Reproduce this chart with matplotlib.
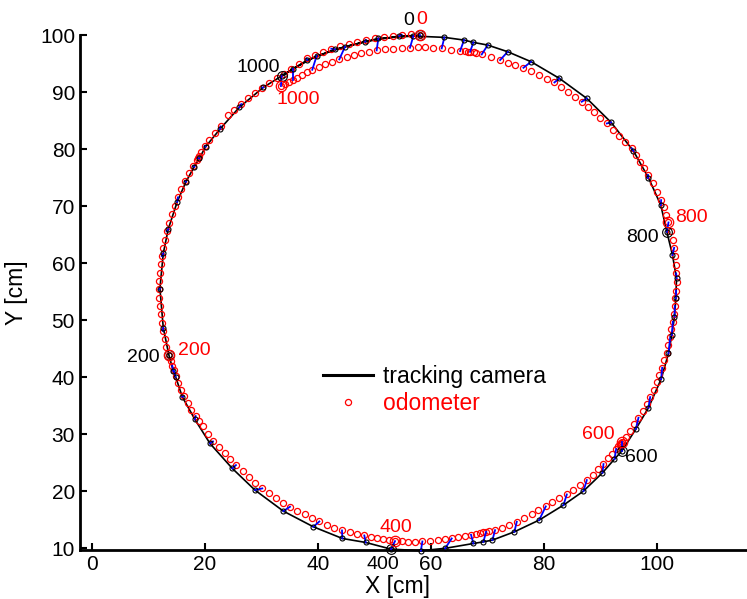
import matplotlib
matplotlib.use('Agg')
import matplotlib.pyplot as plt
from matplotlib.lines import Line2D

plt.rcParams['font.family'] = ['Liberation Sans', 'DejaVu Sans']

# odometer samples (red circles) in driving order, sample 0 at the top
odo_x = [58.0, 56.4, 54.8, 53.2, 51.62, 50.09, 48.49, 46.96, 45.42, 43.89, 42.36, 40.88, 39.41,
         37.99, 36.63, 35.28, 33.98, 32.68, 31.38, 30.14, 28.9, 27.67, 26.43, 25.19, 24.01,
         22.77, 21.77, 20.77, 19.94, 19.35, 18.94, 18.76, 18.58, 17.94, 17.23, 16.46, 15.81,
         15.22, 14.63, 14.16, 13.69, 13.22, 12.92, 12.63, 12.39, 12.21, 12.04, 11.92, 11.86,
         11.9, 12.0, 12.15, 12.33, 12.55, 12.85, 13.2, 13.63,
         13.98, 14.22, 14.51, 14.87, 15.28, 15.75, 16.22, 16.93, 17.58, 18.35, 18.94, 19.59,
         20.47, 21.42, 22.42, 23.48, 24.48, 25.49, 26.67, 27.85, 28.91, 30.15, 31.39, 32.63,
         33.81, 35.05, 36.34, 37.64, 38.94, 40.24, 41.59, 42.89, 44.25, 45.61, 46.9, 48.2,
         49.38, 50.44, 51.51, 52.57, 53.63, 54.81, 55.99, 57.17,
         58.47, 59.83, 61.18, 62.48, 63.66, 64.84, 66.02, 67.08, 67.97, 68.68, 69.27, 69.74,
         70.27, 71.33, 72.51, 73.81, 75.17, 76.52, 77.82, 79.0, 80.3, 81.48, 82.72, 84.02,
         85.2, 86.38, 87.56, 88.62, 89.62, 90.51, 91.39, 92.1, 92.75, 93.16, 93.35, 93.51,
         93.62, 93.75, 94.46, 95.23, 95.99, 96.7, 97.47, 98.18, 98.77, 99.36, 99.95, 100.42,
         100.89, 101.3, 101.72, 102.01, 102.31, 102.54, 102.78, 102.95, 103.13, 103.25, 103.37,
         103.43, 103.37, 103.31, 103.19, 103.01, 102.78, 102.48, 102.01, 101.6, 101.18, 100.71,
         100.0, 99.24, 98.47, 97.76, 97.0, 96.29, 95.52, 94.4, 93.28, 92.22, 91.1, 89.97, 88.85,
         87.79, 86.67, 85.49, 84.25, 83.07, 81.83, 80.48, 79.12, 77.7, 76.35, 74.93, 73.57,
         72.22, 70.62, 68.97, 67.97, 67.55, 66.91, 66.49, 66.02, 65.14, 63.54, 61.89, 60.42,
         58.94, 57.64,
         56.28, 54.81, 53.33, 51.86, 50.38, 49.02, 47.67, 46.37, 45.07, 43.77, 42.53, 41.29,
         40.11, 38.99, 37.99, 37.11, 36.34, 35.63, 34.92, 34.21, 33.45]
odo_y = [100.0, 100.17, 100.06, 99.88, 99.65, 99.41, 99.12, 98.83, 98.48, 98.07, 97.6, 97.07, 96.55,
         95.9, 95.0, 94.1, 93.2, 92.44, 91.62, 90.75, 89.81, 88.88, 87.88, 86.89, 85.89,
         83.97, 82.74, 81.51, 80.51, 79.46, 78.7, 78.41, 78.12, 77.0, 75.72, 74.37, 72.91,
         71.51, 70.04, 68.52, 67.06, 65.6, 64.13, 62.67, 61.21, 59.75, 58.28, 56.82, 55.36,
         53.9, 52.45, 51.0, 49.55, 48.1, 46.65, 45.2, 43.85,
         42.8, 41.98, 41.16, 40.11, 38.94, 37.77, 36.6, 35.49, 34.26, 33.15, 32.27, 31.45,
         30.05, 28.7, 27.65, 26.66, 25.6, 24.55, 23.5, 22.44, 21.39, 20.46, 19.58, 18.7,
         17.94, 17.24, 16.54, 15.89, 15.25, 14.66, 14.08, 13.55, 13.08, 12.73, 12.44, 12.21,
         11.97, 11.74, 11.56, 11.39, 11.21, 11.15, 11.09, 11.09,
         11.15, 11.21, 11.39, 11.5, 11.68, 11.85, 12.09, 12.32, 12.5, 12.62, 12.73, 12.85,
         12.97, 13.14, 13.55, 14.02, 14.61, 15.25, 15.89, 16.59, 17.3, 18.0, 18.7, 19.4,
         20.22, 21.04, 21.92, 22.8, 23.79, 24.73, 25.72, 26.54, 27.36, 27.83, 28.05, 28.29,
         28.45, 28.64, 29.52, 30.58, 31.69, 32.86, 34.03, 35.26, 36.48, 37.77, 39.06, 40.35,
         41.63, 42.92, 44.26, 45.61, 46.96, 48.36, 49.71, 51.05, 52.45, 53.8, 55.15,
         56.65, 58.17, 59.69, 61.15, 62.67, 64.13, 65.66, 67.12, 68.4, 69.75, 71.04,
         72.5, 73.96, 75.43, 76.6, 77.77, 78.94, 80.1, 81.22, 82.27, 83.38, 84.49, 85.43, 86.42,
         87.36, 88.3, 89.11, 89.99, 90.81, 91.69, 92.33, 92.98, 93.62, 94.26, 94.73, 95.14,
         95.61, 96.07, 96.6, 96.84, 96.95, 97.07, 97.07, 97.13, 97.19, 97.42, 97.66, 97.77,
         97.83, 97.83,
         97.77, 97.72, 97.6, 97.48, 97.31, 97.07, 96.78, 96.49, 96.14, 95.73, 95.32, 94.85,
         94.38, 93.91, 93.45, 92.98, 92.51, 92.1, 91.69, 91.4, 91.05]

# tracking camera samples (black line and small black markers)
cam_x = [58.05, 54.39, 48.32, 43.01, 38.11, 30.32, 26.07, 22.66, 20.12, 19.0, 18.11, 16.64,
         15.1, 13.51, 12.63, 12.04, 12.63, 13.63, 14.4, 14.81, 15.99, 18.23, 20.89, 24.84,
         28.85, 33.87, 39.18, 44.31, 48.44, 52.92, 58.2, 62.5, 67.5, 69.27, 70.86, 74.75,
         79.12, 83.43, 86.97, 90.33, 92.45, 93.75, 96.23, 98.47, 100.71, 102.01, 102.6, 103.07,
         103.31, 103.43, 102.72, 101.72, 100.65, 98.47, 95.82, 91.86, 87.56, 82.72, 77.7, 73.57,
         70.03, 67.5, 65.84, 62.36, 56.87, 50.68, 44.78, 39.76, 35.63, 33.57]
cam_y = [99.94, 99.82, 98.83, 97.48, 95.61, 90.81, 87.3, 83.5, 80.4, 78.35, 76.89, 74.25,
         70.75, 65.95, 61.68, 55.53, 48.65, 43.85, 41.05, 40.05, 36.54, 32.56, 28.35, 23.97,
         20.17, 16.48, 13.73, 11.68, 10.98, 9.81, 9.53, 9.95, 10.8, 11.09, 11.39, 12.85,
         14.9, 17.53, 19.99, 23.2, 25.6, 27.01, 30.87, 34.61, 39.64, 44.15, 47.37, 50.58,
         53.8, 57.29, 61.39, 65.48, 70.16, 74.96, 79.64, 84.67, 88.88, 92.39, 95.32, 97.07,
         98.24, 98.71, 99.12, 99.59, 99.82, 99.41, 97.95, 96.31, 94.09, 92.8]

# odometer position at the sample of each camera marker (blue links)
link_x = [58.0, 54.8, 48.49, 42.36, 37.99, 30.14, 26.43, 22.77, 19.94, 18.76, 17.94, 16.46,
          15.22, 13.22, 12.39, 11.86, 12.55, 13.63, 14.22, 14.51, 16.22, 18.35, 21.42, 25.49,
          30.15, 35.05, 40.24, 44.25, 48.2, 53.63, 58.47, 63.66, 67.08, 69.74, 71.33, 75.17,
          80.3, 84.02, 87.56, 90.51, 92.75, 93.75, 96.7, 98.77, 100.89, 102.31, 102.78, 103.13,
          103.37, 103.37, 103.01, 102.01, 100.71, 98.47, 95.52, 91.1, 86.67, 81.83, 76.35, 72.22,
          68.97, 66.91, 65.14, 61.89, 56.28, 50.38, 43.77, 38.99, 35.63, 33.45]
link_y = [100.0, 100.06, 99.12, 97.6, 95.9, 90.75, 87.88, 83.97, 80.51, 78.41, 77.0, 74.37,
          71.51, 65.6, 61.21, 55.36, 48.1, 43.85, 41.98, 41.16, 36.6, 33.15, 28.7, 24.55,
          20.46, 17.24, 14.66, 13.08, 12.21, 11.21, 11.15, 11.68, 12.32, 12.85, 13.14, 14.61,
          17.3, 19.4, 21.92, 24.73, 27.36, 28.64, 32.86, 36.48, 41.63, 46.96, 49.71, 52.45,
          55.15, 58.17, 62.67, 67.12, 71.04, 75.43, 80.1, 84.49, 88.3, 91.69, 94.26, 95.61,
          96.6, 97.07, 97.19, 97.66, 97.77, 97.31, 95.73, 93.91, 92.1, 91.05]

# sample numbers marked on both tracks
mark_labels = ['0', '200', '400', '600', '800', '1000']
cam_mark_x = [58.05, 13.63, 52.92, 93.75, 101.72, 33.57]
cam_mark_y = [99.94, 43.85, 9.81, 27.01, 65.48, 92.8]
odo_mark_x = [58.0, 13.63, 53.63, 93.75, 102.01, 33.45]
odo_mark_y = [100.0, 43.85, 11.21, 28.64, 67.12, 91.05]

x_ticks = [0, 20, 40, 60, 80, 100]
y_ticks = [10, 20, 30, 40, 50, 60, 70, 80, 90, 100]

# text offsets of the sample labels (points) and alignment
cam_lbl_pos = [(-4, 11, 'right'), (-6.5, -2, 'right'), (-6, -11, 'center'),
               (2, -4.5, 'left'), (-6, -4, 'right'), (-1, 6.5, 'right')]
odo_lbl_pos = [(1.5, 11.5, 'center'), (6.5, 3.5, 'left'), (0.5, 9.5, 'center'),
               (-5, 5, 'right'), (5, 3.5, 'left'), (-3, -9.5, 'left')]

fig = plt.figure(figsize=(7.47, 5.99), dpi=100)
ax = fig.add_axes([0.1071, 0.0826, 0.8929, 0.8589])

ax.plot(cam_x, cam_y, color='black', linewidth=1.2, zorder=2, clip_on=False)
ax.plot(odo_x, odo_y, linestyle='none', marker='o', markersize=4.4,
        markerfacecolor='none', markeredgecolor='red', markeredgewidth=0.9,
        zorder=3, clip_on=False)
for cx, cy, lx, ly in zip(cam_x, cam_y, link_x, link_y):
    ax.plot([cx, lx], [cy, ly], color='blue', linewidth=1.3, zorder=4, clip_on=False)
ax.plot(cam_x, cam_y, linestyle='none', marker='o', markersize=3.6,
        markerfacecolor='none', markeredgecolor='black', markeredgewidth=0.8,
        zorder=5, clip_on=False)

# bigger rings at the labelled samples
ax.plot(cam_mark_x, cam_mark_y, linestyle='none', marker='o', markersize=7,
        markerfacecolor='none', markeredgecolor='black', markeredgewidth=0.8,
        zorder=5, clip_on=False)
ax.plot(odo_mark_x, odo_mark_y, linestyle='none', marker='o', markersize=7.5,
        markerfacecolor='none', markeredgecolor='red', markeredgewidth=0.9,
        zorder=5, clip_on=False)

for i, txt in enumerate(mark_labels):
    dx, dy, ha = cam_lbl_pos[i]
    ax.annotate(txt, xy=(cam_mark_x[i], cam_mark_y[i]), xytext=(dx, dy),
                textcoords='offset points', ha=ha, va='center', fontsize=14,
                color='black', annotation_clip=False)
    dx, dy, ha = odo_lbl_pos[i]
    ax.annotate(txt, xy=(odo_mark_x[i], odo_mark_y[i]), xytext=(dx, dy),
                textcoords='offset points', ha=ha, va='center', fontsize=14,
                color='red', annotation_clip=False)

ax.set_xlim(-2.1, 115.9)
ax.set_ylim(9.74, 100)
ax.set_xticks(x_ticks)
ax.set_yticks(y_ticks)
ax.spines['top'].set_visible(False)
ax.spines['right'].set_visible(False)
ax.spines['left'].set_linewidth(2)
ax.spines['bottom'].set_linewidth(2)
ax.tick_params(direction='in', length=5, width=1.5, labelsize=15)
ax.tick_params(axis='x', pad=4.3)
ax.tick_params(axis='y', pad=3.6)

ax.set_xlabel('X [cm]', fontsize=16.5)
ax.set_ylabel('Y [cm]', fontsize=16.5)
ax.xaxis.set_label_coords(0.476, -0.05)
ax.yaxis.set_label_coords(-0.078, 0.5)

# legend handles: thick black line, single red ring
h_cam = Line2D([], [], color='black', linewidth=2.2)
h_odo = Line2D([], [], linestyle='none', marker='o', markersize=4.4,
               markerfacecolor='none', markeredgecolor='red', markeredgewidth=0.9)
leg = ax.legend([h_cam, h_odo], ['tracking camera', 'odometer'], loc='center left',
                bbox_to_anchor=(0.3643, 0.31), frameon=False, fontsize=16.5,
                handlelength=2.2, handletextpad=0.4, labelspacing=0.2,
                borderpad=0, borderaxespad=0)
leg.get_texts()[1].set_color('red')

fig.savefig('out.png', dpi=100)
plt.close(fig)
